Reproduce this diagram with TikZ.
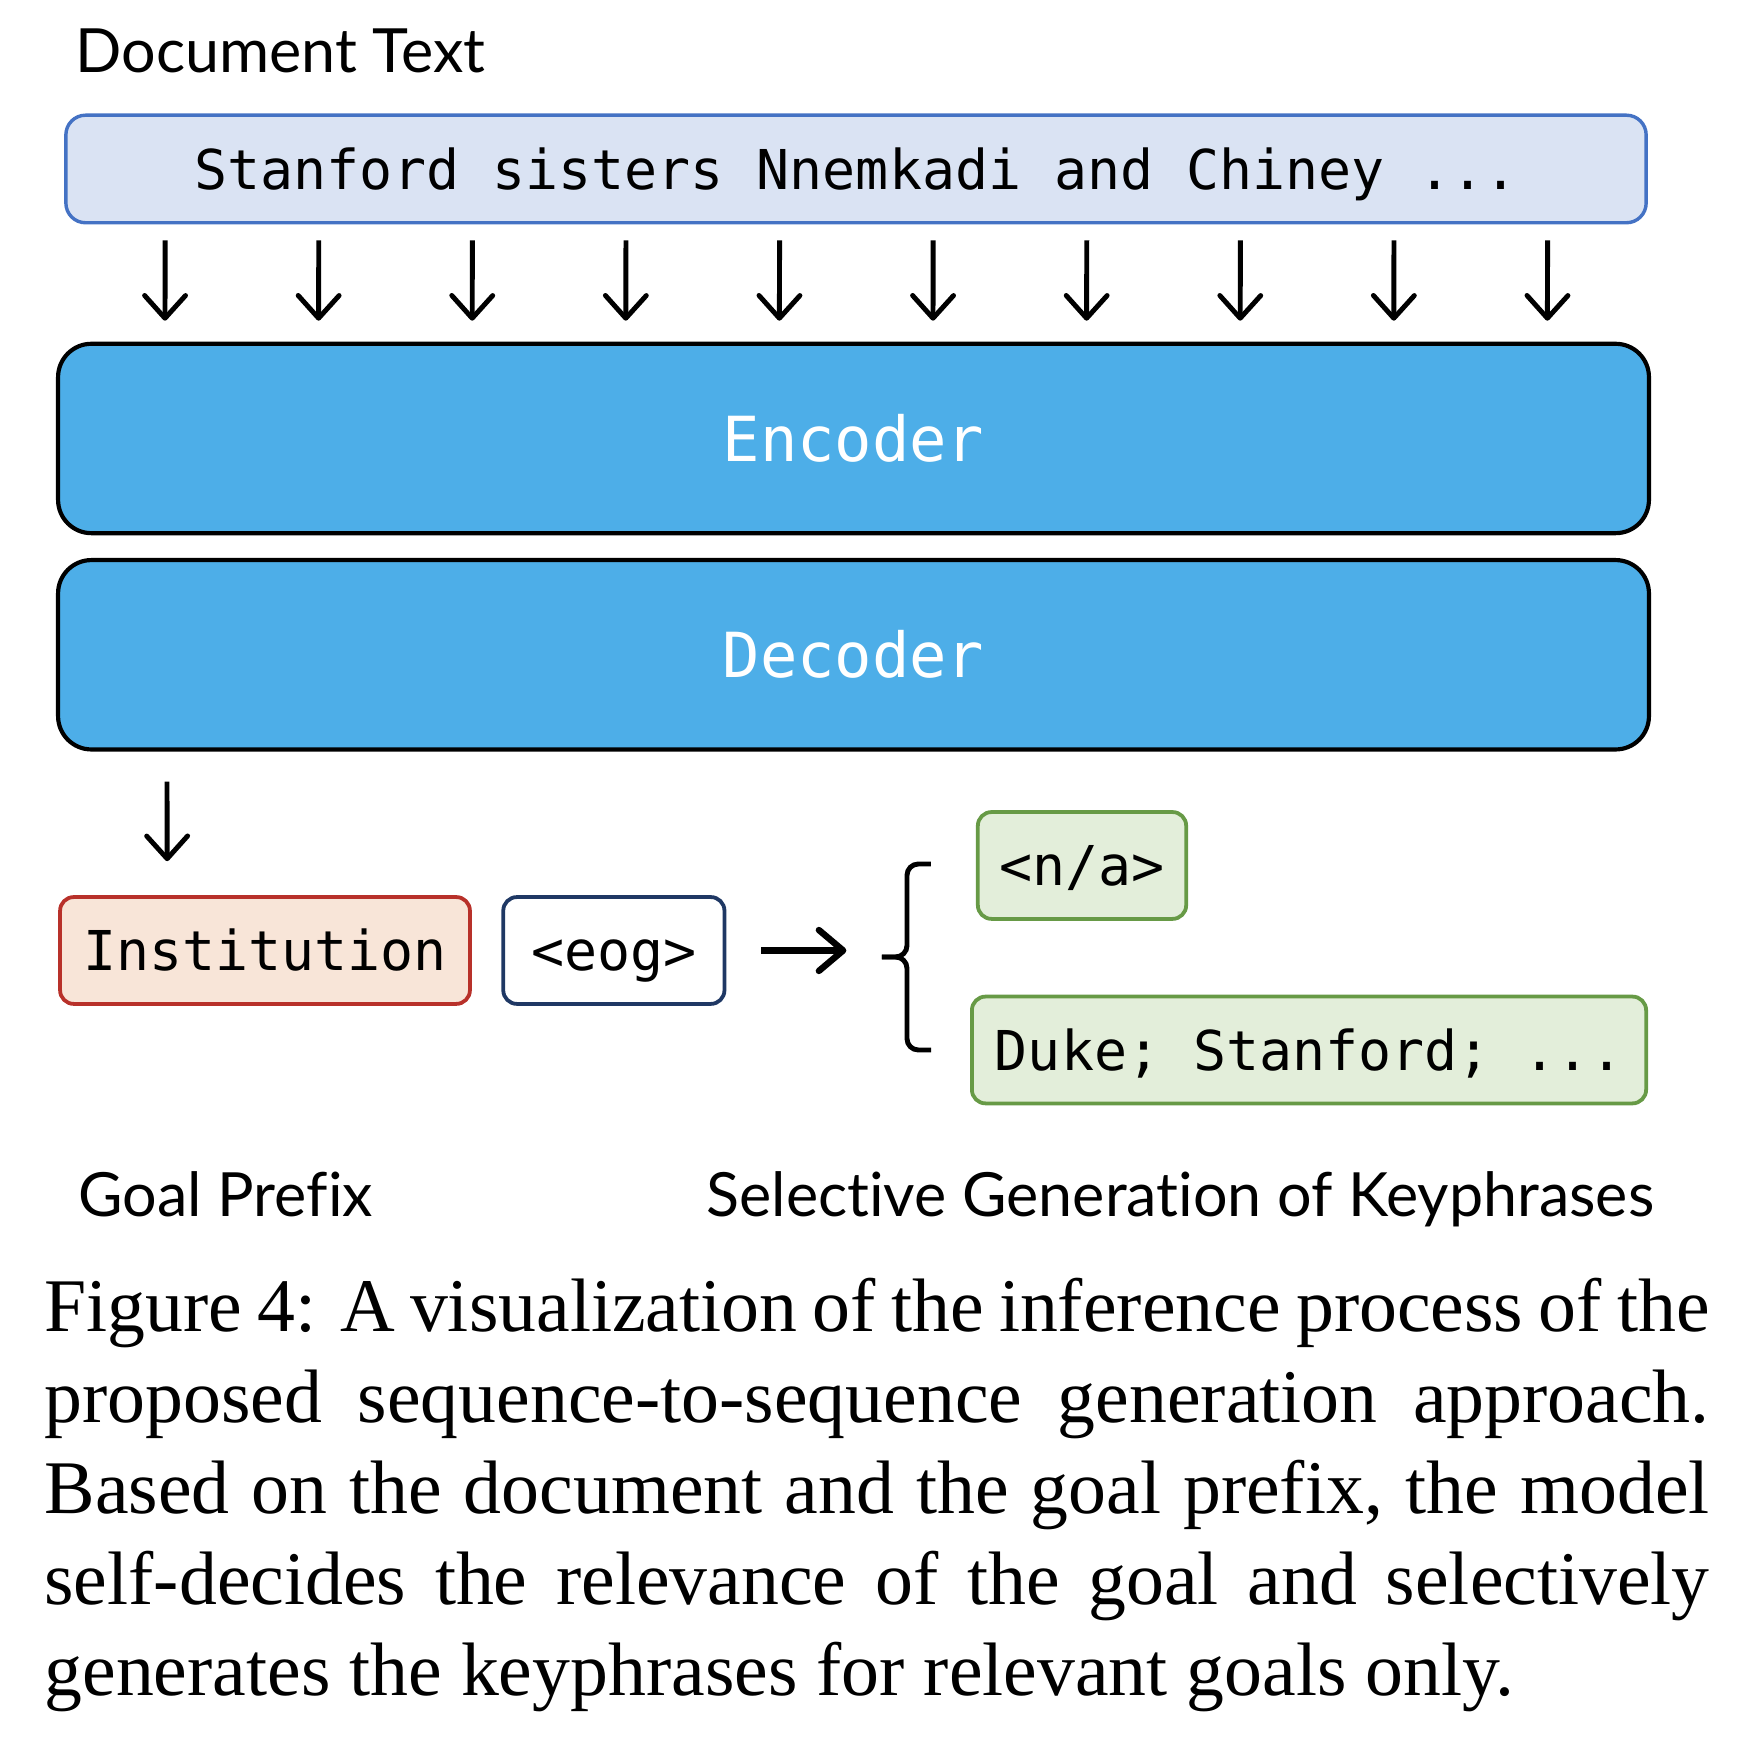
\documentclass[tikz,border=0pt]{standalone}
\usepackage{fontspec}
\setmainfont{Liberation Serif}
\newfontfamily\monofont{DejaVu Sans Mono}
\newfontfamily\labelfont[Ligatures=NoCommon]{Lato}
\usetikzlibrary{arrows.meta,positioning,calc}

\definecolor{docfill}{HTML}{DAE3F3}
\definecolor{docline}{HTML}{4472C4}
\definecolor{layerfill}{HTML}{4DAEE8}
\definecolor{goalfill}{HTML}{F8E5D8}
\definecolor{goalline}{HTML}{B8312A}
\definecolor{eogline}{HTML}{1F3864}
\definecolor{kpfill}{HTML}{E3EEDA}
\definecolor{kpline}{HTML}{679A46}

\tikzset{
  mono/.style={font=\monofont\fontsize{7.25}{8.8}\selectfont,
    text height=5.3pt, text depth=0pt, inner sep=0pt},
  tokenbox/.style={mono, draw=docline, fill=docfill, line width=0.45pt,
    rounded corners=2.6pt, minimum width=208.6pt, minimum height=14.2pt},
  layerbox/.style={draw=black, fill=layerfill, line width=0.55pt,
    rounded corners=4.4pt, minimum width=210pt, minimum height=25pt,
    inner sep=0pt, text=white, font=\monofont\fontsize{8.2}{9.8}\selectfont,
    text height=6pt, text depth=0pt},
  smallbox/.style={mono, line width=0.5pt, rounded corners=1.8pt, minimum height=14.1pt},
  goalbox/.style={smallbox, draw=goalline, fill=goalfill, minimum width=54.1pt},
  eogbox/.style={smallbox, draw=eogline, fill=white, minimum width=29.2pt},
  kpbox/.style={smallbox, draw=kpline, fill=kpfill},
  sidelabel/.style={font=\labelfont\fontsize{8.05}{10}\selectfont, inner sep=0pt, anchor=base west},
  tokarrow/.style={line width=0.65pt, -{Straight Barb[length=3pt,width=5.4pt,round]}},
  genarrow/.style={line width=0.85pt, -{Straight Barb[length=3.2pt,width=5.4pt,round]}},
  bracket/.style={line width=0.65pt, rounded corners=1.5pt},
  capt/.style={anchor=base west, inner sep=0pt, text width=219.8pt, align=justify,
    font=\fontsize{10}{12}\selectfont}
}

\begin{document}
\begin{tikzpicture}[x=0.132pt, y=-0.132pt]
  \useasboundingbox (0,0) rectangle (1762,1750);

  % input document
  \node[sidelabel] (doclabel) at (74,73) {Document Text};
  \node[tokenbox] (doc) at (856,169) {Stanford sisters Nnemkadi and Chiney ...};

  % model
  \node[layerbox] (enc) at (853.5,438.5) {Encoder};
  \node[layerbox] (dec) [below=3pt of enc] {Decoder};

  \foreach \i in {0,...,9}
    \draw[tokarrow] ($(doc.south west)+(101+153.6*\i,16)$) -- ($(enc.north west)+(109+153.6*\i,-21)$);

  % goal prefix and outputs
  \node[goalbox] (inst) at (265,950.5) {Institution};
  \node[eogbox] (eog) [right=3.9pt of inst] {<eog>};
  \node[kpbox, minimum width=27.5pt] (na) at (1082,865.5) {<n/a>};
  \node[kpbox, minimum width=89pt] (duke) at (1309,1050) {Duke; Stanford; ...};

  \draw[tokarrow] ($(dec.south west)+(111,30)$) -- ($(inst.north west)+(109,-34)$);
  \draw[genarrow] ($(eog.east)+(35,0)$) -- ($(eog.east)+(120,0)$);

  \coordinate (bt) at ($(na.west)+(-45,-1.5)$);
  \coordinate (bb) at ($(duke.west)+(-39,0)$);
  \coordinate (tip) at ($(bt)!0.5!(bb)+(-49,0)$);
  \draw[bracket] (bt) -| ($(tip)+(25,0)$) -- (tip);
  \draw[bracket] (bb) -| ($(tip)+(25,0)$) -- (tip);

  \node[sidelabel] (goallabel) at (77,1217) {Goal Prefix};
  \node[sidelabel] (genlabel) at (705,1217) {Selective Generation of Keyphrases};

  % caption
  \node[capt] (caption) at (43,1332) {Figure 4: A visualization of the inference process of the\linebreak
    proposed sequence-to-sequence generation approach.\linebreak
    Based on the document and the goal prefix, the model\linebreak
    self-decides the relevance of the goal and selectively\linebreak
    generates the keyphrases for relevant goals only.};
\end{tikzpicture}
\end{document}
